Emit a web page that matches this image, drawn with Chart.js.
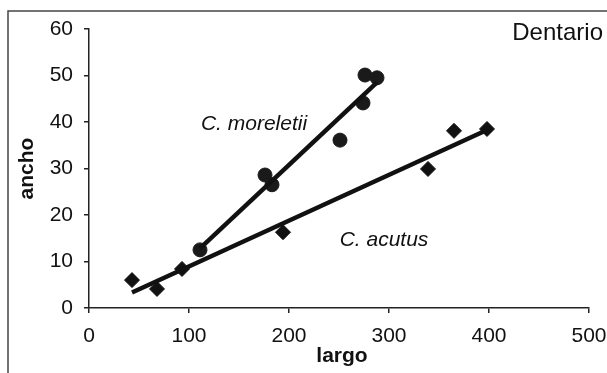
<!DOCTYPE html>
<html>
<head>
<meta charset="utf-8">
<script src="https://cdn.jsdelivr.net/npm/chart.js@4.4.0/dist/chart.umd.min.js"></script>
<style>
    html, body { margin: 0; padding: 0; background: #fff; }
    #grafico { display: block; }
</style>
</head>
<body>
<canvas id="grafico" width="607" height="373"></canvas>
<script>
// Medidas del dentario (largo vs ancho) para las dos especies
const largoMoreletii = [111, 176, 183, 251, 274, 276, 288];
const anchoMoreletii = [12.5, 28.6, 26.5, 36.1, 44.1, 50.1, 49.5];
const largoAcutus = [43, 68, 93, 194, 339, 365, 398];
const anchoAcutus = [6.0, 4.1, 8.4, 16.3, 29.9, 38.1, 38.5];

const ejeX = { min: 0, max: 500, paso: 100 };
const ejeY = { min: 0, max: 60, paso: 10 };

const FUENTE = '"Liberation Sans", Arial, Helvetica, sans-serif';
const NEGRO = '#111';

// Recta de mínimos cuadrados, devuelta como dos puntos en los extremos de los datos
function recta(xs, ys) {
    const n = xs.length;
    const mx = xs.reduce((a, b) => a + b, 0) / n;
    const my = ys.reduce((a, b) => a + b, 0) / n;
    let sxy = 0, sxx = 0;
    for (let i = 0; i < n; i++) {
        sxy += (xs[i] - mx) * (ys[i] - my);
        sxx += (xs[i] - mx) * (xs[i] - mx);
    }
    const m = sxy / sxx;
    const b = my - m * mx;
    const x0 = Math.min(...xs), x1 = Math.max(...xs);
    return [{ x: x0, y: m * x0 + b }, { x: x1, y: m * x1 + b }];
}

const puntos = (xs, ys) => xs.map((x, i) => ({ x, y: ys[i] }));

// Textos sueltos: título, nombres de especie y títulos de ejes
const textos = {
    id: 'textos',
    afterDraw(chart) {
        const { ctx, chartArea, scales } = chart;
        ctx.save();

        // marco de la figura
        ctx.strokeStyle = '#444';
        ctx.lineWidth = 1.5;
        ctx.beginPath();
        ctx.moveTo(8, 373);
        ctx.lineTo(8, 11);
        ctx.lineTo(607, 11);
        ctx.stroke();

        ctx.fillStyle = NEGRO;
        ctx.textBaseline = 'middle';

        ctx.font = 'italic 21px ' + FUENTE;
        ctx.textAlign = 'center';
        ctx.fillText('C. moreletii', scales.x.getPixelForValue(165), scales.y.getPixelForValue(39.5));
        ctx.fillText('C. acutus', scales.x.getPixelForValue(295), scales.y.getPixelForValue(14.6));

        ctx.font = '24px ' + FUENTE;
        ctx.textAlign = 'right';
        ctx.textBaseline = 'alphabetic';
        ctx.fillText('Dentario', 603, 40);

        ctx.font = 'bold 21px ' + FUENTE;
        ctx.textAlign = 'center';
        ctx.fillText('largo', (chartArea.left + chartArea.right) / 2 + 3, 362);

        ctx.translate(chartArea.left - 62, (chartArea.top + chartArea.bottom) / 2);
        ctx.rotate(-Math.PI / 2);
        ctx.textBaseline = 'middle';
        ctx.fillText('ancho', 0, 0);

        ctx.restore();
    }
};

const escala = (lim) => ({
    type: 'linear',
    min: lim.min,
    max: lim.max,
    grid: { drawOnChartArea: false, tickLength: 5, color: '#222', lineWidth: 1.5 },
    border: { color: '#222', width: 1.5 },
    ticks: { stepSize: lim.paso, color: NEGRO, font: { family: FUENTE, size: 21 } }
});

// tamaños fijos de los ejes para que el área del gráfico no dependa de las etiquetas
const opcionesX = escala(ejeX);
opcionesX.ticks.padding = 11;
opcionesX.ticks.maxRotation = 0;
opcionesX.afterFit = (s) => {
    s.height = 65;
    s.paddingLeft = 0;
    s.paddingRight = 0;
};

const opcionesY = escala(ejeY);
opcionesY.ticks.padding = 11;
opcionesY.afterFit = (s) => { s.width = 89; };

new Chart(document.getElementById('grafico').getContext('2d'), {
    type: 'scatter',
    data: {
        datasets: [
            {
                label: 'ajuste C. moreletii',
                data: recta(largoMoreletii, anchoMoreletii),
                showLine: true,
                borderColor: NEGRO,
                borderWidth: 4.5,
                pointRadius: 0
            },
            {
                label: 'ajuste C. acutus',
                data: recta(largoAcutus, anchoAcutus),
                showLine: true,
                borderColor: NEGRO,
                borderWidth: 4.5,
                pointRadius: 0
            },
            {
                label: 'C. moreletii',
                data: puntos(largoMoreletii, anchoMoreletii),
                pointStyle: 'circle',
                pointRadius: 7,
                backgroundColor: '#1a1a1a',
                borderColor: '#1a1a1a',
                borderWidth: 1
            },
            {
                label: 'C. acutus',
                data: puntos(largoAcutus, anchoAcutus),
                pointStyle: 'rectRot',
                pointRadius: 7.5,
                backgroundColor: '#111',
                borderColor: '#111',
                borderWidth: 1
            }
        ]
    },
    options: {
        responsive: false,
        animation: false,
        layout: { padding: { top: 29, right: 18, left: 0, bottom: 0 } },
        plugins: { legend: { display: false }, tooltip: { enabled: false } },
        scales: { x: opcionesX, y: opcionesY }
    },
    plugins: [textos]
});
</script>
</body>
</html>
